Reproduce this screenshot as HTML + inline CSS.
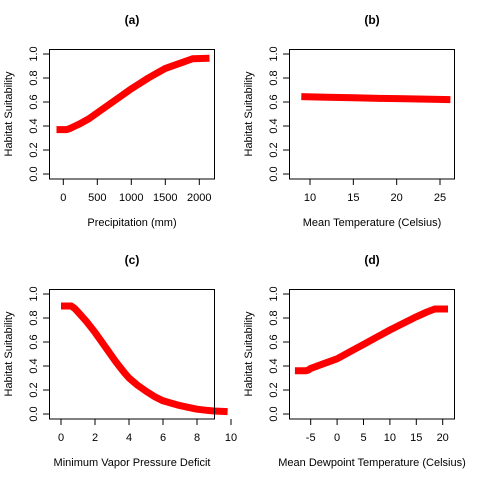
<!DOCTYPE html>
<html><head><meta charset="utf-8"><style>
body{margin:0;background:#fff}
svg{display:block;font-family:"Liberation Sans",Arial,sans-serif}
</style></head><body>
<svg id="c" width="480" height="480"></svg>
<script>
const yTicks=[0,0.2,0.4,0.6,0.8,1.0];
const yTickLabels=["0.0","0.2","0.4","0.6","0.8","1.0"];
const aX=[-100,0,50,100,175,250,375,500,625,750,875,1000,1125,1250,1375,1500,1625,1750,1850,1900,2150];
const aY=[0.37,0.37,0.37,0.38,0.40,0.42,0.46,0.51,0.56,0.61,0.66,0.71,0.755,0.80,0.84,0.88,0.905,0.93,0.95,0.96,0.965];
const aTicks=[0,500,1000,1500,2000];
const bX=[9,12,15,18,21,24,26.2];
const bY=[0.645,0.64,0.635,0.63,0.627,0.623,0.62];
const bTicks=[10,15,20,25];
const cX=[0,0.6,0.8,1,1.25,1.5,1.75,2,2.25,2.5,2.75,3,3.25,3.5,3.75,4,4.5,5,5.5,6,6.5,7,7.5,8,8.5,9,9.8];
const cY=[0.9,0.9,0.88,0.85,0.81,0.77,0.725,0.68,0.63,0.58,0.53,0.48,0.43,0.385,0.34,0.30,0.24,0.19,0.145,0.11,0.09,0.07,0.055,0.04,0.032,0.025,0.02];
const cTicks=[0,2,4,6,8,10];
const dX=[-8,-6,-5.5,-5,-2.5,0,2.5,5,7.5,10,12.5,15,17,18.5,21];
const dY=[0.36,0.36,0.365,0.38,0.42,0.46,0.52,0.58,0.64,0.70,0.755,0.81,0.85,0.875,0.875];
const dTicks=[-5,0,5,10,15,20];
const NS="http://www.w3.org/2000/svg";
const svg=document.getElementById('c');
function mk(t,a,p){const e=document.createElementNS(NS,t);for(const k in a)e.setAttribute(k,a[k]);(p||svg).appendChild(e);return e;}
function panel(id,ox,oy,title,xlabel,xs,ys,ticks,x0,px0,x1,px1){
 const g=mk('g',{transform:`translate(${ox},${oy})`});
 
 
 const sx=v=>px0+(v-x0)*(px1-px0)/(x1-x0);
 const sy=v=>174-v*120;
 const t=mk('text',{x:132,y:24,'text-anchor':'middle','font-size':12,'font-weight':'bold'},g);t.textContent=title;
 
 const pts=xs.map((v,i)=>sx(v).toFixed(1)+','+sy(ys[i]).toFixed(1)).join(' ');
 const l=mk('polyline',{points:pts,fill:'none',stroke:'#ff0000','stroke-width':7,'stroke-linejoin':'round'},g);
 
 const b=mk('rect',{x:49.5,y:49.5,width:165,height:129.5,fill:'none',stroke:'#000'},g);
 
 yTicks.forEach((v,i)=>{const y=sy(v);mk('line',{x1:43,x2:49.5,y1:y,y2:y,stroke:'#000'},g);
  const tx=mk('text',{x:0,y:0,transform:`translate(37,${y}) rotate(-90)`,'text-anchor':'middle','font-size':11},g);tx.textContent=yTickLabels[i];
  });
 mk('line',{x1:49.5,x2:49.5,y1:sy(0),y2:sy(1),stroke:'#000'},g);
 ticks.forEach(v=>{const x=sx(v);mk('line',{x1:x,x2:x,y1:179,y2:185,stroke:'#000'},g);
  const tx=mk('text',{x:x,y:201,'text-anchor':'middle','font-size':11},g);tx.textContent=v;
  });
 const xl=mk('text',{x:132,y:226,'text-anchor':'middle','font-size':11},g);xl.textContent=xlabel;
 
 const yl=mk('text',{x:0,y:0,transform:'translate(12,114) rotate(-90)','text-anchor':'middle','font-size':11},g);yl.textContent='Habitat Suitability';
 
}
panel('a',0,0,'(a)','Precipitation (mm)',aX,aY,aTicks,0,63.3,2000,199.3);
panel('b',240,0,'(b)','Mean Temperature (Celsius)',bX,bY,bTicks,10,70,25,200);
panel('c',0,240,'(c)','Minimum Vapor Pressure Deficit',cX,cY,cTicks,0,61,10,231);
panel('d',240,240,'(d)','Mean Dewpoint Temperature (Celsius)',dX,dY,dTicks,-5,70.7,20,202.7);
</script>
</body></html>
